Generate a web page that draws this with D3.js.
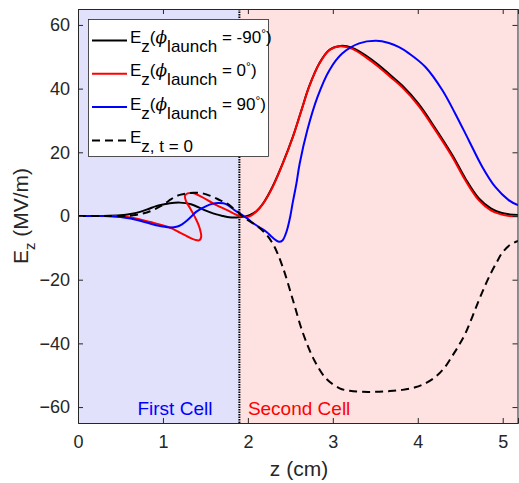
<!DOCTYPE html>
<html>
<head>
<meta charset="utf-8">
<script src="https://cdn.jsdelivr.net/npm/d3@7"></script>
<style>
body { margin: 0; background: #fff; }
svg { display: block; font-family: "Liberation Sans", Arial, Helvetica, sans-serif; }
</style>
</head>
<body>
<div id="chart"></div>
<script>
// Ez along the gun axis (z in cm, Ez in MV/m)
var zMinus90 = [0, 0.3, 0.5, 0.62, 0.73, 0.83, 0.92, 1.0, 1.08, 1.2, 1.33, 1.47, 1.55, 1.63, 1.71, 1.78, 1.85, 1.9, 1.96, 2.02, 2.1, 2.18, 2.29, 2.41, 2.53, 2.63, 2.72, 2.84, 2.96, 3.09, 3.23, 3.39, 3.54, 3.68, 3.82, 4.01, 4.21, 4.41, 4.56, 4.72, 4.86, 4.98, 5.08, 5.18]
var ezMinus90 = [0, 0, 0.2, 0.6, 1.3, 2.2, 3.1, 3.6, 4.0, 4.2, 3.7, 2.1, 1.2, 0.5, 0.0, -0.4, -0.5, -0.4, -0.2, 0.3, 1.5, 4.0, 9.2, 16.5, 24.9, 33.2, 40.6, 47.9, 52.2, 53.4, 52.8, 50.4, 47.4, 44.2, 40.9, 35.2, 27.4, 19.0, 11.8, 5.5, 2.4, 1.0, 0.5, 0.3]

var zZero = [0, 0.3, 0.5, 0.62, 0.73, 0.85, 0.97, 1.08, 1.2, 1.3, 1.38, 1.43, 1.45, 1.43, 1.38, 1.32, 1.27, 1.26, 1.29, 1.35, 1.45, 1.59, 1.75, 1.88, 1.95, 2.02, 2.1, 2.18, 2.29, 2.41, 2.53, 2.63, 2.72, 2.84, 2.96, 3.08, 3.23, 3.39, 3.54, 3.68, 3.82, 4.01, 4.21, 4.41, 4.56, 4.72, 4.86, 4.98, 5.08, 5.18]
var ezZero = [0, 0, -0.1, -0.5, -1.1, -1.9, -2.7, -3.6, -5.2, -6.6, -7.5, -7.6, -6.6, -3.6, -0.5, 2.4, 4.8, 6.4, 7.1, 7.2, 6.1, 4.0, 1.9, 0.2, -0.3, -0.1, 1.4, 3.9, 9.0, 16.4, 24.8, 33.1, 40.5, 47.8, 52.1, 53.3, 52.5, 49.8, 46.8, 43.6, 40.3, 34.6, 26.8, 18.4, 11.2, 4.9, 1.8, 0.5, 0.0, -0.1]

var zPlus90 = [0, 0.3, 0.5, 0.62, 0.73, 0.83, 0.92, 1.0, 1.08, 1.16, 1.22, 1.28, 1.34, 1.39, 1.45, 1.51, 1.58, 1.65, 1.71, 1.76, 1.84, 1.92, 2.0, 2.06, 2.14, 2.22, 2.28, 2.33, 2.37, 2.41, 2.44, 2.47, 2.5, 2.53, 2.57, 2.61, 2.7, 2.82, 2.96, 3.11, 3.31, 3.51, 3.66, 3.78, 3.9, 4.09, 4.29, 4.44, 4.6, 4.76, 4.91, 5.07, 5.18]
var ezPlus90 = [0, 0, -0.3, -0.8, -1.5, -2.2, -2.9, -3.3, -3.6, -3.4, -2.7, -1.5, 0, 1.3, 2.3, 3.1, 3.8, 4.1, 4.0, 3.5, 1.9, 0.5, -0.9, -2.2, -3.6, -5.0, -6.5, -7.6, -8.1, -7.6, -6.0, -3.5, 0, 4.5, 10, 16.5, 27, 37.4, 45.8, 51, 54.2, 55, 54.3, 53, 51, 46.8, 39.5, 32.2, 23.8, 15.4, 9.2, 5, 3.4]

var zStatic = [0, 0.5, 0.65, 0.75, 0.85, 0.93, 1.0, 1.07, 1.14, 1.21, 1.28, 1.36, 1.43, 1.51, 1.59, 1.67, 1.75, 1.82, 1.88, 1.94, 2.0, 2.1, 2.2, 2.3, 2.41, 2.53, 2.65, 2.78, 2.92, 3.08, 3.2, 3.35, 3.5, 3.66, 3.82, 3.97, 4.1, 4.21, 4.31, 4.4, 4.48, 4.56, 4.64, 4.72, 4.79, 4.86, 4.93, 4.99, 5.08, 5.18]
var ezStatic = [0, 0, 0.2, 0.7, 1.5, 2.5, 3.5, 4.8, 6.0, 6.7, 7.1, 7.3, 7.3, 6.8, 6.0, 5.0, 4.0, 2.6, 1.3, -0.2, -1.3, -3.0, -5.3, -9.0, -16, -26.4, -36.9, -45.2, -51, -54.1, -54.9, -55.2, -55.2, -55, -54.6, -53.8, -52.4, -50.5, -47.8, -44.2, -40.8, -36.9, -31.8, -26.4, -22, -18, -14.5, -11.7, -9.2, -7.8]

var xTicks = [0, 1, 2, 3, 4, 5]
var yTicks = [-60, -40, -20, 0, 20, 40, 60]
var cellBoundary = 1.9
var cellNames = ["First Cell", "Second Cell"]
var launchPhases = ["-90", "0", "90"]

var width = 519, height = 483
var margin = {left: 78, right: 1, top: 9, bottom: 60}

var svg = d3.select("#chart").append("svg")
  .attr("width", width)
  .attr("height", height)

var x = d3.scaleLinear().domain([0, 5.18]).range([margin.left, width - margin.right])
var y = d3.scaleLinear().domain([-65, 65]).range([height - margin.bottom, margin.top])

// cell shading
svg.append("rect")
  .attr("x", x(0)).attr("y", y(65))
  .attr("width", x(cellBoundary) - x(0)).attr("height", y(-65) - y(65))
  .attr("fill", "rgb(225,225,252)")
svg.append("rect")
  .attr("x", x(cellBoundary)).attr("y", y(65))
  .attr("width", x(5.18) - x(cellBoundary)).attr("height", y(-65) - y(65))
  .attr("fill", "rgb(254,226,226)")

svg.append("defs").append("clipPath").attr("id", "clip")
  .append("rect")
  .attr("x", x(0)).attr("y", y(65))
  .attr("width", x(5.18) - x(0)).attr("height", y(-65) - y(65))

// boundary between the cells
svg.append("line")
  .attr("x1", x(cellBoundary)).attr("x2", x(cellBoundary))
  .attr("y1", y(65)).attr("y2", y(-65))
  .attr("stroke", "#000")
  .attr("stroke-width", 2)
  .attr("stroke-dasharray", "1.5,1")

var series = [
  {z: zMinus90, e: ezMinus90, color: "#000000", dash: null},
  {z: zZero, e: ezZero, color: "#ff0000", dash: null},
  {z: zPlus90, e: ezPlus90, color: "#0000ff", dash: null},
  {z: zStatic, e: ezStatic, color: "#000000", dash: "8,5"}
]

var line = d3.line()
  .x(function (d) { return x(d[0]) })
  .y(function (d) { return y(d[1]) })
  .curve(d3.curveCatmullRom.alpha(0.5))

svg.append("g")
  .attr("clip-path", "url(#clip)")
  .selectAll("path")
  .data(series)
  .enter()
  .append("path")
    .attr("d", function (s) { return line(d3.zip(s.z, s.e)) })
    .attr("fill", "none")
    .attr("stroke", function (s) { return s.color })
    .attr("stroke-width", 2)
    .attr("stroke-dasharray", function (s) { return s.dash })

// axes, MATLAB style box with inward ticks
var axisColor = "#262626"
svg.append("g").attr("transform", "translate(0," + y(-65) + ")")
  .call(d3.axisBottom(x).tickValues(xTicks).tickSize(-5).tickPadding(12).tickFormat(d3.format("d")))
svg.append("g").attr("transform", "translate(0," + y(65) + ")")
  .call(d3.axisTop(x).tickValues(xTicks).tickSize(-5).tickFormat(""))
svg.append("g").attr("transform", "translate(" + x(0) + ",0)")
  .call(d3.axisLeft(y).tickValues(yTicks).tickSize(-5).tickPadding(8).tickFormat(d3.format("d")))
svg.append("g").attr("transform", "translate(" + (x(5.18) - 0.5) + ",0)")
  .call(d3.axisRight(y).tickValues(yTicks).tickSize(-5).tickFormat(""))

svg.selectAll(".domain").attr("stroke", axisColor).attr("stroke-width", 1)
svg.selectAll(".tick line").attr("stroke", axisColor).attr("stroke-width", 1)
svg.selectAll(".tick text")
  .attr("fill", axisColor)
  .style("font-size", "18px")
  .style("font-family", "'Liberation Sans', Arial, sans-serif")

// cell names
svg.append("text")
  .attr("x", x(0.7)).attr("y", y(-62.5))
  .attr("fill", "#0000ff")
  .style("font-size", "19px")
  .text(cellNames[0])
svg.append("text")
  .attr("x", x(2.0)).attr("y", y(-62.5))
  .attr("fill", "#ff0000")
  .style("font-size", "19px")
  .text(cellNames[1])

// writes a TeX-like string as tspans: parts are [text, kind]
function addParts(sel, parts, sub, subSize) {
  var cur = 0
  parts.forEach(function (p) {
    var target = p[1] == "sub" ? sub : (p[1] == "sup" ? -5 : 0)
    var t = sel.append("tspan").attr("dy", target - cur).text(p[0])
    cur = target
    if (p[1] == "phi") t.style("font-style", "italic").style("font-family", "'DejaVu Serif', serif")
    if (p[1] == "sup") t.style("font-size", "12px")
    if (p[1] == "sub" && subSize) t.style("font-size", subSize)
  })
}

// axis labels
svg.append("text")
  .attr("x", (x(0) + x(5.18)) / 2 + 1).attr("y", 476)
  .attr("text-anchor", "middle")
  .attr("fill", axisColor)
  .style("font-size", "21px")
  .text("z (cm)")

var yLabel = svg.append("text")
  .attr("transform", "translate(28," + y(0) + ") rotate(-90)")
  .attr("text-anchor", "middle")
  .attr("fill", axisColor)
  .style("font-size", "21px")
  .style("white-space", "pre")
addParts(yLabel, [["E", "n"], ["z", "sub"], [" (MV/m)", "n"]], 7, "15px")

// legend
var legend = svg.append("g")
legend.append("rect")
  .attr("x", 88.5).attr("y", 19.5)
  .attr("width", 180).attr("height", 137)
  .attr("fill", "#fff")
  .attr("stroke", axisColor)
  .attr("stroke-width", 0.8)

var legendParts = launchPhases.map(function (ph) {
  return [["E", "n"], ["z", "sub"], ["(", "n"], ["\u03D5", "phi"], ["launch", "sub"], [" = " + ph, "n"], ["\u00B0", "sup"], [")", "n"]]
})
legendParts.push([["E", "n"], ["z, t = 0", "sub"]])

series.forEach(function (s, i) {
  var yc = 40.5 + i * 33.3
  legend.append("line")
    .attr("x1", 92).attr("x2", 127)
    .attr("y1", yc).attr("y2", yc)
    .attr("stroke", s.color)
    .attr("stroke-width", 2)
    .attr("stroke-dasharray", s.dash)
  var t = legend.append("text")
    .attr("x", 130).attr("y", yc + 2.5)
    .attr("fill", "#000")
    .style("font-size", "17px")
    .style("white-space", "pre")
  addParts(t, legendParts[i], 9)
})
</script>
</body>
</html>
